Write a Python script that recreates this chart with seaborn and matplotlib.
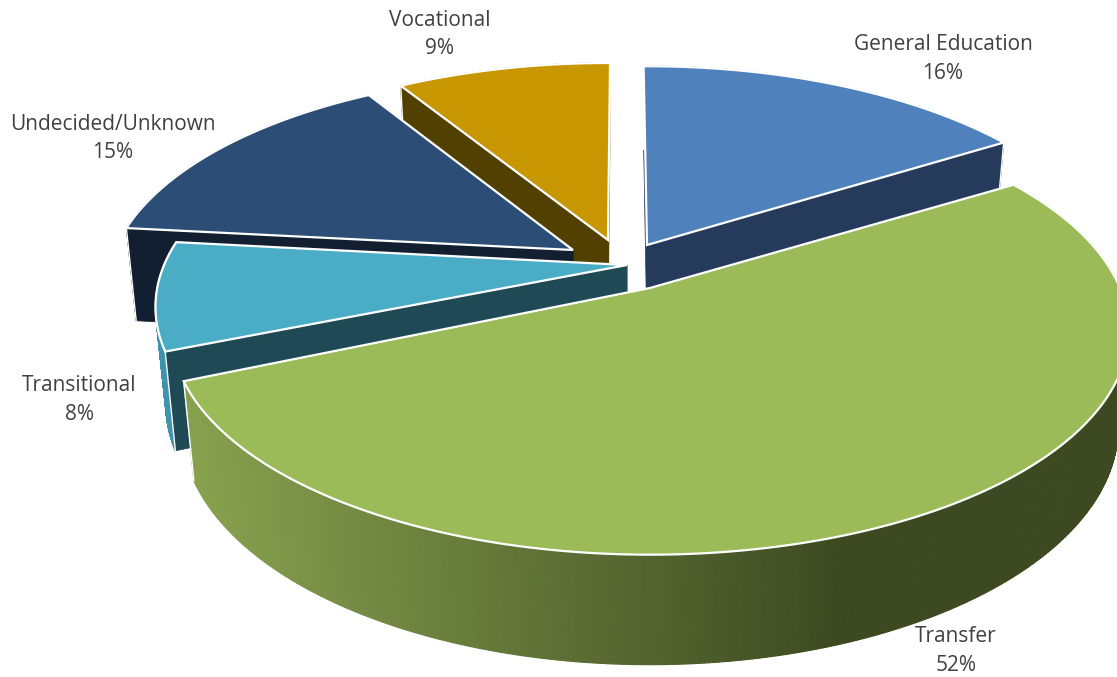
import numpy as np
import matplotlib
matplotlib.use("Agg")
import matplotlib.pyplot as plt
import seaborn as sns
from matplotlib.collections import PolyCollection
from matplotlib.patches import Polygon

categories = ["General Education", "Transfer", "Transitional", "Undecided/Unknown", "Vocational"]
shares = [16, 52, 8, 15, 9]
top_colors = ["#4F81BD", "#9BBB59", "#4BACC6", "#2C4D75", "#C89600"]
face_colors = ["#263A5C", "#4E5F2D", "#1F4955", "#121F30", "#524000"]
rim_colors = ["#263A5C", "#87A04E", "#3F93AD", "#121F30", "#524000"]

# label anchors, pixels
label_x = [943, 956, 79.5, 113, 440]
label_y = [59, 651, 400, 138.5, 34.5]

# per slice explode: apex position, radius scale, small nudges of the edges (degrees)
apex = [(647, 245), (650, 288), (627, 265), (573, 250), (608, 240)]
scale = [0.985, 1.0, 0.985, 0.975, 0.975]
nudge_start = [-0.5, 0.7, 3.0, 2.5, 0.7]
nudge_end = [0.4, 1.7, 2.7, 1.2, 0.3]
draw_order = [4, 0, 3, 2, 1]

# perspective of the disc
A, B, K = 470, 216, 0.19
DEPTH, SX, SY = 94, 0.978, 1.06


def project(theta, i):
    # clockwise angle from top of the disc -> offset from slice apex
    u, v = np.sin(theta), np.cos(theta)
    d = 1 + K * v
    return scale[i] * A * u / d, -scale[i] * B * v / d


def top_pt(dx, dy, i):
    return apex[i][0] + dx, apex[i][1] + dy


def low_pt(dx, dy, i):
    return apex[i][0] + SX * dx, apex[i][1] + SY * dy + DEPTH


sns.set_theme(style="white")
plt.rcParams["font.family"] = ["Open Sans", "DejaVu Sans"]

fig, ax = plt.subplots(figsize=(11.17, 6.77), dpi=100)
fig.subplots_adjust(0, 0, 1, 1)
ax.set_xlim(0, 1117)
ax.set_ylim(677, 0)
ax.axis("off")

edges = np.cumsum([0] + shares) / sum(shares) * 2 * np.pi
transfer_ramp = sns.blend_palette(["#87A04E", "#3D4A21"], 300)

for i in draw_order:
    z = draw_order.index(i) * 4
    is_transfer = categories[i] == "Transfer"
    thetas = np.linspace(edges[i] + np.radians(nudge_start[i]), edges[i + 1] + np.radians(nudge_end[i]), 500)
    dx, dy = project(thetas, i)
    tx, ty = top_pt(dx, dy, i)
    lx, ly = low_pt(dx, dy, i)
    ax_, ay_ = apex[i]
    bx, by = low_pt(0, 0, i)

    # outer rim, split so it can carry a gradient
    quads, cols = [], []
    for k in range(len(thetas) - 1):
        quads.append([(tx[k], ty[k]), (tx[k + 1], ty[k + 1]), (lx[k + 1], ly[k + 1]), (lx[k], ly[k])])
        if is_transfer:
            pos = np.clip((tx[k] - 195) / (840 - 195), 0, 1)
            cols.append(transfer_ramp[int(pos * 299)])
        else:
            cols.append(rim_colors[i])
    # the big slice has its rim in front of the cut faces, the others behind
    ax.add_collection(PolyCollection(quads, facecolors=cols, edgecolors=cols, linewidths=0.8,
                                     zorder=z + 2 if is_transfer else z))

    # radial faces
    for k in [0, -1]:
        ax.add_patch(Polygon([(ax_, ay_), (tx[k], ty[k]), (lx[k], ly[k]), (bx, by)],
                             facecolor=face_colors[i], edgecolor=face_colors[i], lw=0.5, zorder=z + 1))

    # vertical edges of the slice
    for k in [0, -1]:
        ax.plot([tx[k], lx[k]], [ty[k], ly[k]], color="white", lw=1.0, zorder=z + 2)

    # top
    pts = [(ax_, ay_)] + list(zip(tx, ty))
    ax.add_patch(Polygon(pts, facecolor=top_colors[i], edgecolor="white", lw=1.6,
                         joinstyle="miter", zorder=z + 3))

for name, share, x, y in zip(categories, shares, label_x, label_y):
    ax.text(x, y, f"{name}\n{share}%", ha="center", va="center", fontsize=15,
            color="#404040", linespacing=1.5, zorder=50)

fig.savefig("out.png", dpi=100)
